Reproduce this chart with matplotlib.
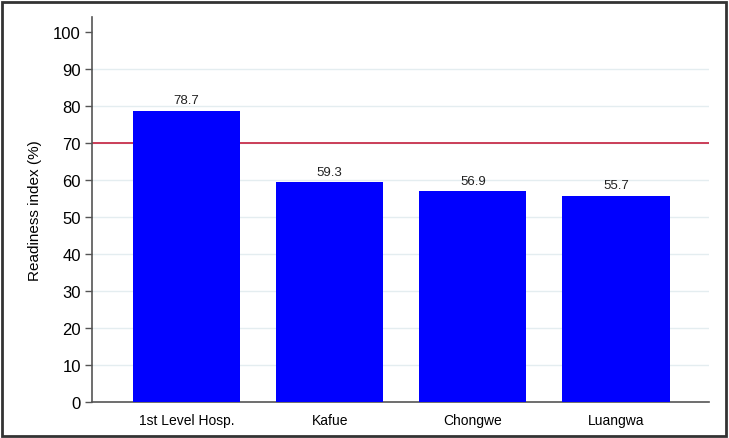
import matplotlib
matplotlib.use("Agg")
import matplotlib.pyplot as plt
from matplotlib.patches import Rectangle

sites = ["1st Level Hosp.", "Kafue", "Chongwe", "Luangwa"]
readiness = [78.7, 59.3, 56.9, 55.7]
target = 70
yticks = [0, 10, 20, 30, 40, 50, 60, 70, 80, 90, 100]

plt.rcParams["font.family"] = ["Liberation Sans", "DejaVu Sans"]

fig = plt.figure(figsize=(7.29, 4.39), dpi=100)
ax = fig.add_axes([92 / 729, 36 / 439, (709 - 92) / 729, (403 - 18) / 439])

x = list(range(len(sites)))
ax.bar(x, readiness, width=0.75, color="#0000ff", zorder=3)
for xi, v in zip(x, readiness):
    ax.text(xi, v + 1.2, f"{v:.1f}", ha="center", va="bottom", fontsize=9.5, color="#222222")

ax.axhline(target, color="#c8304c", linewidth=1.3, zorder=2)

ax.set_xlim(-0.66, 3.65)
ax.set_ylim(0, 104)
ax.set_yticks(yticks)
ax.set_xticks(x)
ax.set_xticklabels(sites, fontsize=10)
ax.tick_params(axis="x", length=0, pad=8)
ax.tick_params(axis="y", length=5, width=1, color="#555555", labelsize=12, pad=3)
for g in yticks[1:-1]:
    ax.axhline(g, color="#e4edf0", linewidth=1, zorder=1)

ax.set_ylabel("Readiness index (%)", fontsize=11, labelpad=8)
for side in ["top", "right"]:
    ax.spines[side].set_visible(False)
for side in ["left", "bottom"]:
    ax.spines[side].set_color("#555555")
    ax.spines[side].set_linewidth(1.2)

fig.patches.append(Rectangle((2 / 729, 2 / 439), 724 / 729, 434 / 439, transform=fig.transFigure,
                             fill=False, edgecolor="#333333", linewidth=2))

fig.savefig("out.png", dpi=100)
